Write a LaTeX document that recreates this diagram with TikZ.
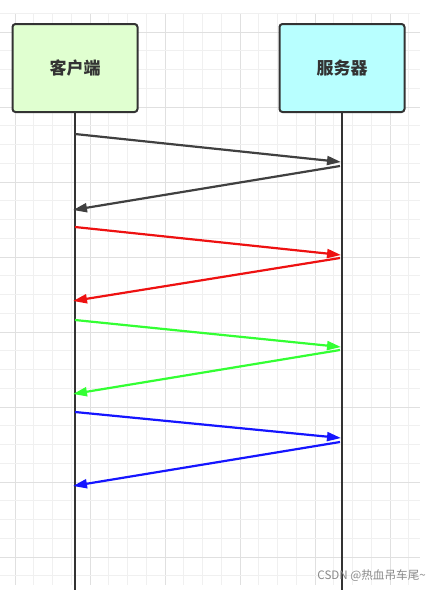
\documentclass[tikz,border=0pt]{standalone}
\usepackage{fontspec}
\newfontfamily\cjk{Noto Sans CJK SC}
\usetikzlibrary{arrows.meta}
\definecolor{clientfill}{HTML}{E0FFD0}
\definecolor{serverfill}{HTML}{B8FFFF}
\definecolor{edge}{HTML}{333333}
\definecolor{gridminor}{HTML}{F0F0F0}
\definecolor{gridmajor}{HTML}{E0E0E0}
\definecolor{msgdark}{HTML}{404040}
\definecolor{msgred}{HTML}{EE1111}
\definecolor{msggreen}{HTML}{33FF33}
\definecolor{msgblue}{HTML}{1515FF}
\definecolor{wm}{HTML}{8A8A8A}
\tikzset{
  actor/.style={draw=edge, line width=2pt, rounded corners=3pt, minimum width=125pt, minimum height=88pt, inner sep=0pt, font=\cjk\bfseries\fontsize{17}{19}\selectfont, text=edge},
  lifeline/.style={draw=edge, line width=2pt},
  msg/.style={line width=2.2pt, -{Triangle[length=14pt,width=9pt]}},
  gminor/.style={draw=gridminor, line width=1pt},
  gmajor/.style={draw=gridmajor, line width=1pt},
}
\begin{document}
\begin{tikzpicture}[x=1pt,y=-1pt]
\useasboundingbox (0,0) rectangle (440,590);
\fill[white] (0,0) rectangle (440,590);
% grid
\foreach \k in {0,...,21} {
  \pgfmathsetmacro{\xx}{15+\k*18.75}
  \pgfmathtruncatemacro{\mm}{mod(\k,4)}
  \ifnum\mm=0 \draw[gmajor] (\xx,14) -- (\xx,585); \else \draw[gminor] (\xx,14) -- (\xx,585); \fi
}
\foreach \k in {0,...,30} {
  \pgfmathsetmacro{\yy}{13.25+\k*18.75}
  \pgfmathtruncatemacro{\mm}{mod(\k-1+8,4)}
  \ifnum\mm=0 \draw[gmajor] (0,\yy) -- (420,\yy); \else \draw[gminor] (0,\yy) -- (420,\yy); \fi
}
% actors
\node[actor, fill=clientfill] (client) at (75,68) {客户端};
\node[actor, fill=serverfill] (server) at (342,68) {服务器};
\coordinate (cend) at (75,590);
\coordinate (send) at (342,590);
\draw[lifeline] (client.south) -- (cend);
\draw[lifeline] (server.south) -- (send);
% message points
\coordinate (c1) at (75,134);  \coordinate (s1) at (341,162);
\coordinate (s2) at (340,166); \coordinate (c2) at (73,210);
\coordinate (c3) at (75,227);  \coordinate (s3) at (341,255);
\coordinate (s4) at (340,258); \coordinate (c4) at (73,301);
\coordinate (c5) at (75,320);  \coordinate (s5) at (341,347);
\coordinate (s6) at (340,350); \coordinate (c6) at (73,394);
\coordinate (c7) at (75,412);  \coordinate (s7) at (341,438);
\coordinate (s8) at (340,442); \coordinate (c8) at (73,486);
\draw[msg, msgdark] (c1) -- (s1);
\draw[msg, msgdark] (s2) -- (c2);
\draw[msg, msgred] (c3) -- (s3);
\draw[msg, msgred] (s4) -- (c4);
\draw[msg, msggreen] (c5) -- (s5);
\draw[msg, msggreen] (s6) -- (c6);
\draw[msg, msgblue] (c7) -- (s7);
\draw[msg, msgblue] (s8) -- (c8);
% watermark
\node[font=\cjk\fontsize{11.6}{13}\selectfont, text=wm, anchor=east, inner sep=0pt] (wmark) at (426,576) {CSDN @热血吊车尾\textasciitilde};
\end{tikzpicture}
\end{document}
